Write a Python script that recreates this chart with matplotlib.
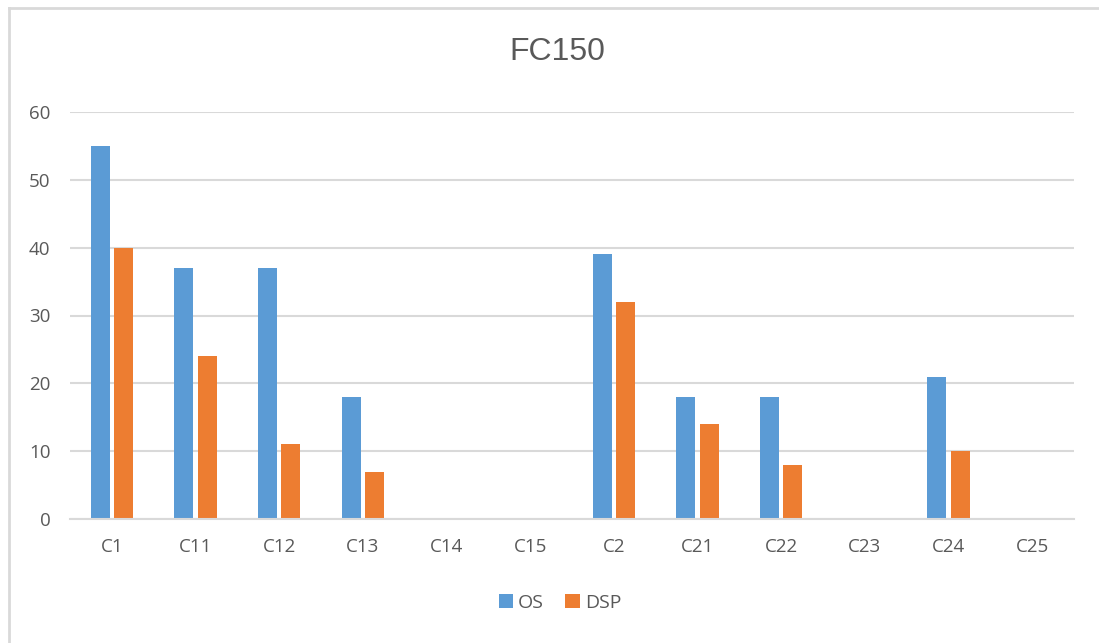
import matplotlib
matplotlib.use("Agg")
import matplotlib.pyplot as plt
import numpy as np
from matplotlib.lines import Line2D

categories = ["C1", "C11", "C12", "C13", "C14", "C15", "C2", "C21", "C22", "C23", "C24", "C25"]
os_values = [55, 37, 37, 18, 0, 0, 39, 18, 18, 0, 21, 0]
dsp_values = [40, 24, 11, 7, 0, 0, 32, 14, 8, 0, 10, 0]
yticks = [0, 10, 20, 30, 40, 50, 60]

plt.rcParams['font.family'] = ['Open Sans', 'DejaVu Sans']
text_color = '#595959'
grid_color = '#D9D9D9'
blue = '#5B9BD5'
orange = '#ED7D31'

fig = plt.figure(figsize=(10.99, 6.43), dpi=100)
fig.patch.set_facecolor('white')
# outer chart frame: only left and top edges are visible
fx = 8.5 / 1099
fy = 1 - 7.5 / 643
fig.lines.append(Line2D([fx, fx], [0, fy], transform=fig.transFigure, color='#D9D9D9', linewidth=2))
fig.lines.append(Line2D([fx, 1], [fy, fy], transform=fig.transFigure, color='#D9D9D9', linewidth=2))

ax = fig.add_axes([70/1099, (643-519)/643, (1074-70)/1099, (519-112)/643])
x = np.arange(len(categories))
w = 0.225
ax.bar(x - 0.14, os_values, width=w, color=blue, label='OS', zorder=3)
ax.bar(x + 0.14, dsp_values, width=w, color=orange, label='DSP', zorder=3)

ax.set_xlim(-0.5, len(categories) - 0.5)
ax.set_ylim(0, 60)
ax.set_yticks(yticks)
ax.set_yticklabels([str(t) for t in yticks])
ax.set_xticks(x)
ax.set_xticklabels(categories)
ax.tick_params(axis='both', length=0, labelsize=13.5, colors=text_color)
ax.tick_params(axis='y', pad=14)
ax.tick_params(axis='x', pad=14)
for s in ['top', 'right', 'left']:
    ax.spines[s].set_visible(False)
ax.spines['bottom'].set_color(grid_color)
ax.spines['bottom'].set_linewidth(1.5)
ax.spines['bottom'].set_zorder(4)
ax.yaxis.grid(True, color=grid_color, linewidth=1.5, zorder=0)
ax.set_axisbelow(True)

fig.text(557/1099, 1 - 52/643, "FC150", ha='center', va='center', fontsize=23,
         color=text_color, family=['Liberation Sans', 'DejaVu Sans'])

leg = fig.legend(loc='center', bbox_to_anchor=(560/1099, 1 - 603/643), ncol=2, frameon=False,
                 fontsize=14, handlelength=0.75, handleheight=0.75, handletextpad=0.25,
                 columnspacing=1.1, labelcolor=text_color)

fig.savefig("out.png", dpi=100, facecolor='white')
